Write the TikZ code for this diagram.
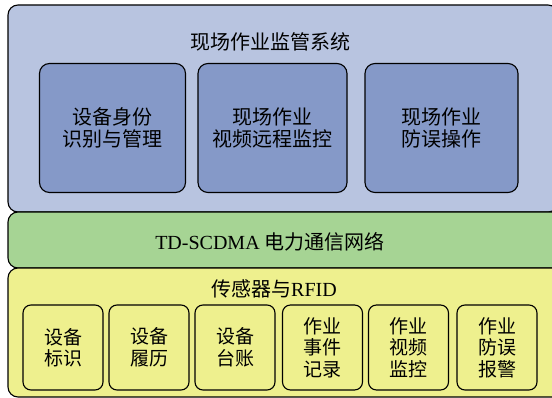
\documentclass[tikz,border=0pt]{standalone}
\usepackage{fontspec}
\setmainfont{Liberation Serif}
\newfontfamily\cjk{Noto Sans CJK SC}
\definecolor{outerblue}{RGB}{184,196,224}
\definecolor{innerblue}{RGB}{133,153,200}
\definecolor{netgreen}{RGB}{166,212,148}
\definecolor{senseyellow}{RGB}{238,240,142}
\begin{document}
\begin{tikzpicture}[x=1pt,y=-1pt,
  layerbox/.style={draw=black,line width=1.1pt,rounded corners=10pt},
  bigbox/.style={draw=black,line width=1.1pt,rounded corners=10pt,fill=innerblue,
    minimum width=146pt,minimum height=129pt,inner sep=0pt,align=center,
    font=\cjk\fontsize{20}{22.5}\selectfont},
  smallbox/.style={draw=black,line width=1.1pt,rounded corners=8pt,fill=senseyellow,
    minimum width=80pt,minimum height=85pt,inner sep=0pt,align=center,
    font=\cjk\fontsize{19}{21.5}\selectfont},
  label/.style={inner sep=0pt,font=\fontsize{20}{22}\selectfont}]
\useasboundingbox (0,0) rectangle (552,398);
\fill[white] (0,0) rectangle (552,398);
\begin{scope}
\clip (0,0) rectangle (552,398);
\draw[layerbox,fill=outerblue] (8,5) rectangle (558,212);
\draw[layerbox,fill=netgreen] (8,212) rectangle (562,268);
\draw[layerbox,fill=senseyellow] (8,268) rectangle (562,397);
\end{scope}
\node[label] (t1) at (270,42) {\cjk 现场作业监管系统};
\node[bigbox] (b1) at (112.5,128) {设备身份\\识别与管理};
\node[bigbox,minimum width=149pt] (b2) at (272.5,128) {现场作业\\视频远程监控};
\node[bigbox,minimum width=153pt] (b3) at (441.5,128) {现场作业\\防误操作};
\node[label] (t2) at (270,242) {TD-SCDMA {\cjk 电力通信网络}};
\node[label] (t3) at (274,289) {{\cjk 传感器与}RFID};
\node[smallbox] (s1) at (63,347.5) {设备\\标识};
\node[smallbox] (s2) at (149,347.5) {设备\\履历};
\node[smallbox] (s3) at (235,347.5) {设备\\台账};
\node[smallbox] (s4) at (322.5,347.5) {作业\\事件\\记录};
\node[smallbox] (s5) at (408.5,347.5) {作业\\视频\\监控};
\node[smallbox] (s6) at (497,347.5) {作业\\防误\\报警};
\end{tikzpicture}
\end{document}
